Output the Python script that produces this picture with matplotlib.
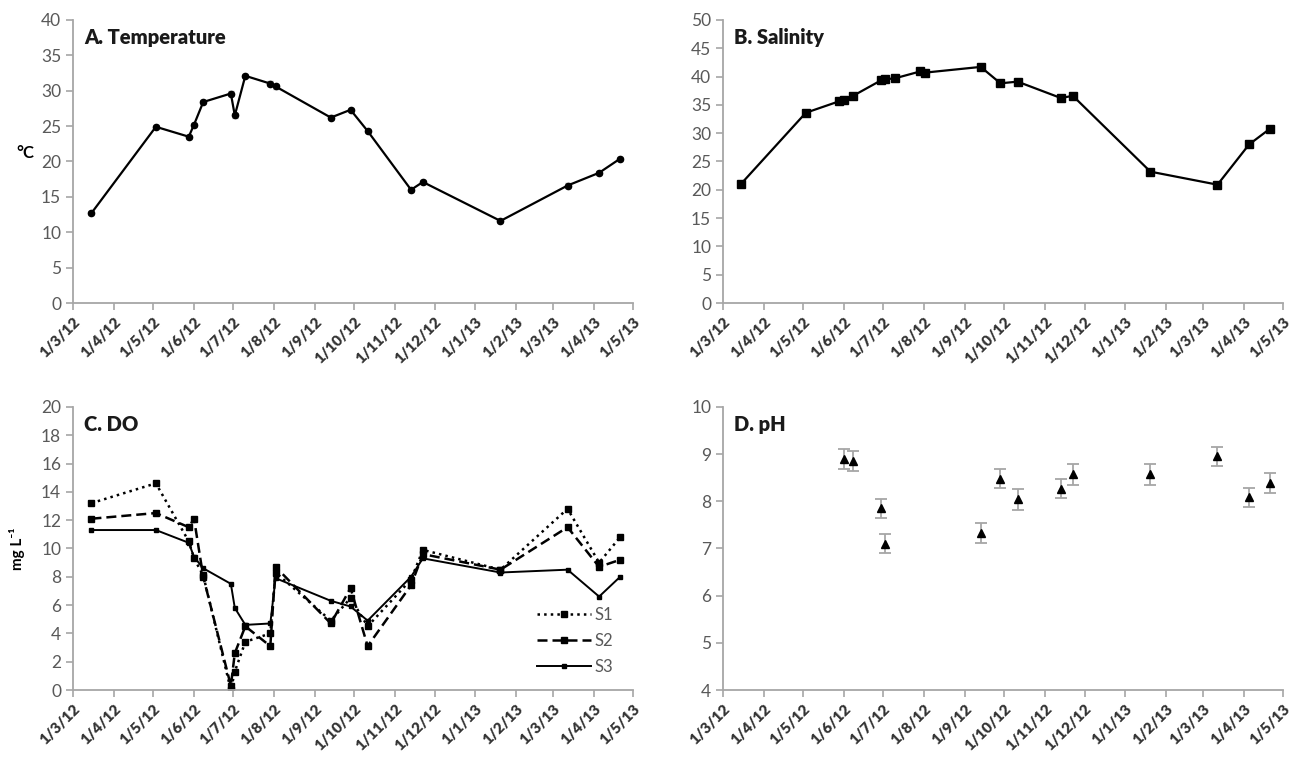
import pandas as pd
import matplotlib
matplotlib.use("Agg")
import matplotlib.pyplot as plt
import matplotlib.dates as mdates
from matplotlib.ticker import FuncFormatter, MultipleLocator

plt.rcParams['font.family'] = ['Lato', 'DejaVu Sans']

# sampling dates (day/month/year on the axis)
dates = ['2012-03-15', '2012-05-03', '2012-05-28', '2012-06-01', '2012-06-08',
         '2012-06-29', '2012-07-02', '2012-07-10', '2012-07-29', '2012-08-02',
         '2012-09-13', '2012-09-28', '2012-10-11', '2012-11-13', '2012-11-22',
         '2013-01-20', '2013-03-12', '2013-04-05', '2013-04-21']

temperature = [12.7, 24.9, 23.5, 25.2, 28.4, 29.6, 26.5, 32.1, 31.0, 30.6,
               26.2, 27.3, 24.3, 16.0, 17.1, 11.6, 16.6, 18.4, 20.4]
salinity = [21.1, 33.6, 35.6, 35.8, 36.6, 39.3, 39.5, 39.7, 40.9, 40.7,
            41.7, 38.8, 39.1, 36.2, 36.6, 23.2, 20.9, 28.0, 30.8]

do_s1 = [13.2, 14.6, 10.5, 9.3, 8.1, 0.0, 1.3, 3.4, 4.0, 8.3,
         4.9, 6.5, 4.5, 7.8, 9.9, 8.5, 12.8, 9.0, 10.8]
do_s2 = [12.1, 12.5, 11.5, 12.1, 8.0, 0.3, 2.6, 4.5, 3.1, 8.7,
         4.7, 7.2, 3.1, 7.4, 9.6, 8.5, 11.5, 8.7, 9.2]
do_s3 = [11.3, 11.3, 10.4, 9.4, 8.6, 7.5, 5.8, 4.6, 4.7, 7.9,
         6.3, 5.9, 4.9, 8.0, 9.3, 8.3, 8.5, 6.6, 8.0]

ph_dates = ['2012-06-01', '2012-06-08', '2012-06-29', '2012-07-02', '2012-09-13',
            '2012-09-28', '2012-10-11', '2012-11-13', '2012-11-22', '2013-01-20',
            '2013-03-12', '2013-04-05', '2013-04-21']
ph = [8.89, 8.86, 7.85, 7.10, 7.33, 8.48, 8.04, 8.27, 8.57, 8.57, 8.95, 8.08, 8.39]
ph_err = [0.21, 0.21, 0.2, 0.2, 0.21, 0.2, 0.22, 0.21, 0.22, 0.22, 0.2, 0.21, 0.21]

d = pd.to_datetime(dates)
dph = pd.to_datetime(ph_dates)

GREY = '#a6a6a6'
TXT = '#595959'

fig = plt.figure(figsize=(12.97, 7.57), dpi=100)
w, h = 0.432, 0.374
axA = fig.add_axes([0.0563, 0.5997, w, h])
axB = fig.add_axes([0.5574, 0.5997, w, h])
axC = fig.add_axes([0.0563, 0.0885, w, h])
axD = fig.add_axes([0.5574, 0.0885, w, h])


def date_label(x, pos):
    t = mdates.num2date(x)
    return f"{t.day}/{t.month}/{t.strftime('%y')}"


def style(ax, title, ylim, step):
    ax.set_xlim(pd.Timestamp('2012-03-01'), pd.Timestamp('2013-05-01'))
    ax.set_ylim(*ylim)
    ax.yaxis.set_major_locator(MultipleLocator(step))
    ax.xaxis.set_major_locator(mdates.MonthLocator())
    ax.xaxis.set_major_formatter(FuncFormatter(date_label))
    for s in ['top', 'right']:
        ax.spines[s].set_visible(False)
    for s in ['left', 'bottom']:
        ax.spines[s].set_color(GREY)
        ax.spines[s].set_linewidth(1.3)
    ax.tick_params(axis='both', colors=GREY, length=5, width=1.2)
    ax.tick_params(axis='y', labelcolor=TXT, labelsize=12.5)
    ax.tick_params(axis='x', labelcolor='#333333', labelsize=11)
    for lab in ax.get_xticklabels():
        lab.set_rotation(45)
        lab.set_ha('right')
        lab.set_rotation_mode('anchor')
        lab.set_fontweight('heavy')
    ax.text(0.02, 0.97, title, transform=ax.transAxes, fontsize=14.5,
            fontweight='heavy', va='top', ha='left', color='#1a1a1a')


# A. Temperature
axA.errorbar(d, temperature, yerr=0.3, color='black', lw=1.6, marker='o',
             ms=4.5, ecolor=GREY, elinewidth=1, capsize=2)
style(axA, 'A. Temperature', (0, 40), 5)
axA.set_ylabel('°C', rotation=0, fontsize=12, fontweight='bold')
axA.yaxis.set_label_coords(-0.085, 0.5)

# B. Salinity
axB.errorbar(d, salinity, yerr=0.3, color='black', lw=1.6, marker='s',
             ms=5.5, ecolor=GREY, elinewidth=1, capsize=2)
style(axB, 'B. Salinity', (0, 50), 5)

# C. DO
axC.plot(d, do_s1, color='black', lw=1.8, ls=':', marker='s', ms=4, label='S1')
axC.plot(d, do_s2, color='black', lw=1.8, ls='--', dashes=(4, 2), marker='s', ms=4, label='S2')
axC.plot(d, do_s3, color='black', lw=1.4, ls='-', marker='s', ms=3.5, label='S3')
style(axC, 'C. DO', (0, 20), 2)
axC.set_ylabel('mg L⁻¹', fontsize=11, fontweight='bold')
axC.yaxis.set_label_coords(-0.085, 0.5)
leg = axC.legend(loc='lower right', bbox_to_anchor=(0.99, 0.0), frameon=False,
                 fontsize=12, handlelength=3.2, labelspacing=0.6, handletextpad=0.2)
for t in leg.get_texts():
    t.set_color(TXT)

# D. pH
axD.errorbar(dph, ph, yerr=ph_err, fmt='^', color='black', ms=6,
             ecolor=GREY, elinewidth=1.3, capsize=4, capthick=1.3)
style(axD, 'D. pH', (4, 10), 1)

fig.savefig('out.png', dpi=100)
